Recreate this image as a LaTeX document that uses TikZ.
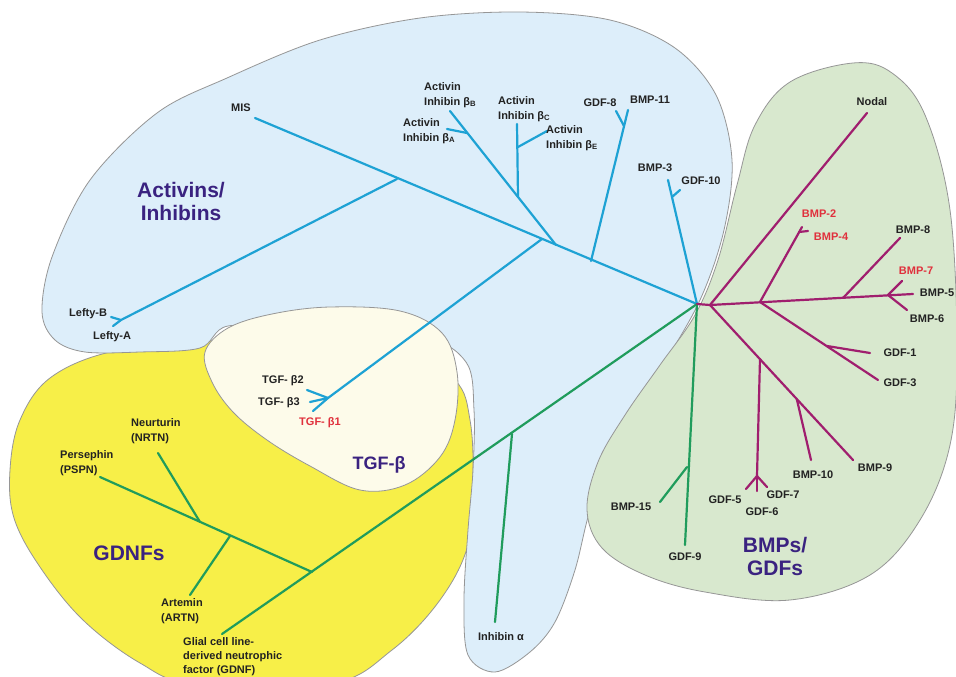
\documentclass[tikz,border=0pt]{standalone}
\usepackage{fontspec}
\setmainfont{Liberation Sans}
\definecolor{fillblue}{RGB}{221,238,250}
\definecolor{fillgreen}{RGB}{216,232,206}
\definecolor{fillyellow}{RGB}{247,239,72}
\definecolor{fillcream}{RGB}{253,251,234}
\definecolor{edgegray}{RGB}{150,150,150}
\definecolor{lineblue}{RGB}{30,162,212}
\definecolor{linegreen}{RGB}{32,156,92}
\definecolor{linemag}{RGB}{160,30,110}
\definecolor{txtred}{RGB}{224,48,60}
\definecolor{txtpurp}{RGB}{58,34,128}
\definecolor{txtblack}{RGB}{34,34,34}
\begin{document}
\begin{tikzpicture}[x=1pt,y=-1pt,
  region/.style={draw=edgegray, line width=0.8pt},
  lbl/.style={font=\bfseries\fontsize{11}{15}\selectfont, text=txtblack, inner sep=0pt, align=left},
  redlbl/.style={lbl, text=txtred},
  biglbl/.style={font=\bfseries\fontsize{21}{23}\selectfont, text=txtpurp, inner sep=0pt, align=center},
  bbr/.style={draw=lineblue, line width=2.2pt, line cap=round, line join=round},
  gbr/.style={draw=linegreen, line width=2.2pt, line cap=round, line join=round},
  mbr/.style={draw=linemag, line width=2.2pt, line cap=round, line join=round}]
\useasboundingbox (0,0) rectangle (956,677);
\fill[white] (0,0) rectangle (956,677);

% ---------- regions ----------
% GDNFs (yellow)
\path[region, fill=fillyellow] plot[smooth cycle, tension=0.6] coordinates {
 (50,378) (20,420) (10,470) (14,518) (40,567) (83,620) (140,663) (195,684)
 (330,684) (392,650) (440,600) (468,545) (473,480) (470,420) (455,380)
 (400,345) (300,335) (200,342) (110,352)};
% Activins/Inhibins (blue)
\path[region, fill=fillblue] plot[smooth cycle, tension=0.55] coordinates {
 (42,312) (52,257) (90,180) (157,113) (227,78) (320,40) (420,18) (520,12)
 (610,20) (675,48) (716,95) (732,160) (724,230) (700,300) (660,370)
 (615,440) (590,510) (575,570) (555,622) (530,652) (495,672) (468,655)
 (464,600) (468,530) (473,470) (474,410) (466,362) (420,336) (300,330)
 (228,326) (200,348) (140,352) (85,352) (55,340)};
% TGF-beta (cream)
\path[region, fill=fillcream] plot[smooth cycle, tension=0.6] coordinates {
 (205,352) (228,328) (272,314) (330,307) (400,311) (442,333) (457,372)
 (455,420) (440,457) (405,485) (360,490) (310,466) (267,440) (233,412)
 (212,382)};
% BMPs/GDFs (green)
\path[region, fill=fillgreen] plot[smooth cycle, tension=0.6] coordinates {
 (853,63) (790,82) (755,125) (737,185) (718,260) (695,315) (660,365)
 (625,415) (598,462) (587,510) (602,548) (645,575) (705,592) (790,600)
 (870,575) (920,520) (950,445) (957,350) (950,210) (925,115) (892,73)};

% ---------- coordinates ----------
\coordinate (H) at (697,304);
% blue
\coordinate (Tmis) at (255,118);
\coordinate (Bj1) at (591,261);
\coordinate (Tbmp11) at (628,110);
\coordinate (Bg8) at (624,126);
\coordinate (Tgdf8) at (616,111);
\coordinate (Tbmp3) at (668,180);
\coordinate (Bg10) at (672,197);
\coordinate (Tgdf10) at (680,190);
\coordinate (Bact) at (556,245);
\coordinate (Btgf) at (542,239);
\coordinate (Blef) at (397,179);
\coordinate (TbB) at (450,111);
\coordinate (BjA) at (467,133);
\coordinate (TbA) at (447,129);
\coordinate (BjC) at (518,197);
\coordinate (TbC) at (517,124);
\coordinate (BjE) at (518,147);
\coordinate (TbE) at (547,131);
\coordinate (Tfork) at (328,398);
\coordinate (Tb2) at (307,390);
\coordinate (Tb3) at (310,402);
\coordinate (Tb1) at (313,411);
\coordinate (Lfork) at (121,320);
\coordinate (TlB) at (111,317);
\coordinate (TlA) at (113,326);
% green
\coordinate (Gj1) at (512,434);
\coordinate (Tinha) at (495,622);
\coordinate (Gj2) at (312,572);
\coordinate (Tgdnf) at (222,634);
\coordinate (Tpspn) at (100,477);
\coordinate (Gn) at (200,522);
\coordinate (Tnrtn) at (158,453);
\coordinate (Ga) at (230,536);
\coordinate (Tartn) at (190,595);
\coordinate (Tgdf9) at (685,545);
\coordinate (Gb15) at (687,467);
\coordinate (Tbmp15) at (660,502);
% magenta
\coordinate (M1) at (710,305);
\coordinate (Tnodal) at (867,113);
\coordinate (M2) at (760,302);
\coordinate (Tbmp2) at (802,227);
\coordinate (Mb4) at (799,232);
\coordinate (Tbmp4) at (808,231);
\coordinate (M3) at (843,298);
\coordinate (Tbmp8) at (900,238);
\coordinate (M4) at (888,295);
\coordinate (Tbmp5) at (913,294);
\coordinate (Tbmp7) at (902,281);
\coordinate (Tbmp6) at (907,310);
\coordinate (Mg1) at (827,346);
\coordinate (Tgdf1) at (870,353);
\coordinate (Tgdf3) at (878,380);
\coordinate (Tbmp9) at (853,460);
\coordinate (Mg5) at (760,359);
\coordinate (Mfork) at (757,476);
\coordinate (Tgdf5) at (746,489);
\coordinate (Tgdf6) at (757,491);
\coordinate (Tgdf7) at (767,487);
\coordinate (Mb10) at (797,400);
\coordinate (Tbmp10) at (811,460);

% ---------- branches ----------
% blue
\draw[bbr] (H) -- (Tmis);
\draw[bbr] (Bj1) -- (Tbmp11);
\draw[bbr] (Bg8) -- (Tgdf8);
\draw[bbr] (H) -- (Tbmp3);
\draw[bbr] (Bg10) -- (Tgdf10);
\draw[bbr] (Bact) -- (TbB);
\draw[bbr] (BjA) -- (TbA);
\draw[bbr] (BjC) -- (TbC);
\draw[bbr] (BjE) -- (TbE);
\draw[bbr] (Btgf) -- (Tfork);
\draw[bbr] (Tfork) -- (Tb2);
\draw[bbr] (Tfork) -- (Tb3);
\draw[bbr] (Tfork) -- (Tb1);
\draw[bbr] (Blef) -- (Lfork);
\draw[bbr] (Lfork) -- (TlB);
\draw[bbr] (Lfork) -- (TlA);
% green
\draw[gbr] (H) -- (Tgdnf);
\draw[gbr] (Gj1) -- (Tinha);
\draw[gbr] (Gj2) -- (Tpspn);
\draw[gbr] (Gn) -- (Tnrtn);
\draw[gbr] (Ga) -- (Tartn);
\draw[gbr] (H) -- (Tgdf9);
\draw[gbr] (Gb15) -- (Tbmp15);
% magenta
\draw[mbr] (H) -- (M1);
\draw[mbr] (M1) -- (Tnodal);
\draw[mbr] (M1) -- (Tbmp5);
\draw[mbr] (M2) -- (Tbmp2);
\draw[mbr] (Mb4) -- (Tbmp4);
\draw[mbr] (M3) -- (Tbmp8);
\draw[mbr] (M4) -- (Tbmp7);
\draw[mbr] (M4) -- (Tbmp6);
\draw[mbr] (M2) -- (Tgdf3);
\draw[mbr] (Mg1) -- (Tgdf1);
\draw[mbr] (M1) -- (Tbmp9);
\draw[mbr] (Mg5) -- (Mfork);
\draw[mbr] (Mfork) -- (Tgdf5);
\draw[mbr] (Mfork) -- (Tgdf6);
\draw[mbr] (Mfork) -- (Tgdf7);
\draw[mbr] (Mb10) -- (Tbmp10);

% ---------- labels ----------
\node[biglbl] (lact) at (181,201) {Activins/\\Inhibins};
\node[biglbl] (lbmps) at (775,556) {BMPs/\\GDFs};
\node[biglbl] (lgdnfs) at (129,553) {GDNFs};
\node[biglbl, font=\bfseries\fontsize{18}{20}\selectfont] (ltgf) at (379,465) {TGF-β};

\node[lbl] (nmis) at (241,108) {MIS};
\node[lbl, anchor=west] (nbB) at (424,95) {Activin\\Inhibin β\textsubscript{B}};
\node[lbl, anchor=west] (nbA) at (403,131) {Activin\\Inhibin β\textsubscript{A}};
\node[lbl, anchor=west] (nbC) at (498,109) {Activin\\Inhibin β\textsubscript{C}};
\node[lbl, anchor=west] (nbE) at (546,138) {Activin\\Inhibin β\textsubscript{E}};
\node[lbl] (ngdf8) at (600,103) {GDF-8};
\node[lbl] (nbmp11) at (650,100) {BMP-11};
\node[lbl] (nbmp3) at (655,168) {BMP-3};
\node[lbl] (ngdf10) at (701,181) {GDF-10};
\node[lbl, anchor=west] (nleftyb) at (69,314) {Lefty-B};
\node[lbl, anchor=west] (nleftya) at (93,337) {Lefty-A};
\node[lbl] (ntgf2) at (283,381) {TGF- β2};
\node[lbl] (ntgf3) at (279,403) {TGF- β3};
\node[redlbl] (ntgf1) at (320,423) {TGF- β1};

\node[lbl] (nnodal) at (872,102) {Nodal};
\node[redlbl] (nbmp2) at (819,214) {BMP-2};
\node[redlbl] (nbmp4) at (831,237) {BMP-4};
\node[lbl] (nbmp8) at (913,230) {BMP-8};
\node[redlbl] (nbmp7) at (916,271) {BMP-7};
\node[lbl] (nbmp5) at (937,293) {BMP-5};
\node[lbl] (nbmp6) at (927,319) {BMP-6};
\node[lbl] (ngdf1) at (900,353) {GDF-1};
\node[lbl] (ngdf3) at (900,383) {GDF-3};
\node[lbl] (nbmp10) at (813,475) {BMP-10};
\node[lbl] (nbmp9) at (875,468) {BMP-9};
\node[lbl] (ngdf5) at (725,500) {GDF-5};
\node[lbl] (ngdf7) at (783,495) {GDF-7};
\node[lbl] (ngdf6) at (762,512) {GDF-6};
\node[lbl] (nbmp15) at (631,507) {BMP-15};
\node[lbl] (ngdf9) at (685,557) {GDF-9};
\node[lbl] (ninha) at (501,637) {Inhibin α};

\node[lbl, anchor=west] (nnrtn) at (131,431) {Neurturin\\(NRTN)};
\node[lbl, anchor=west] (npspn) at (60,463) {Persephin\\(PSPN)};
\node[lbl, anchor=west] (nartn) at (161,611) {Artemin\\(ARTN)};
\node[lbl, anchor=west, font=\bfseries\fontsize{11}{14}\selectfont] (ngdnf) at (183,657) {Glial cell line-\\derived neutrophic\\factor (GDNF)};
\end{tikzpicture}
\end{document}
